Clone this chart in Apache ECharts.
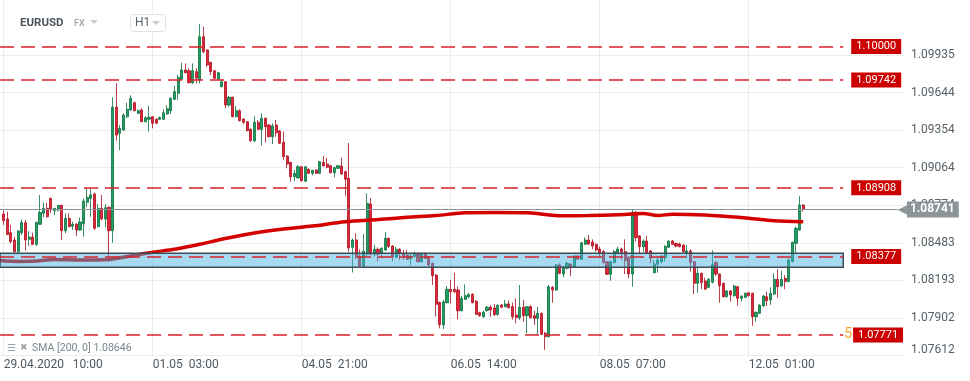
<!DOCTYPE html>
<html><head><meta charset="utf-8">
<script src="https://cdn.jsdelivr.net/npm/echarts@6/dist/echarts.min.js"></script>
<style>html,body{margin:0;padding:0;background:#fff}#c{width:970px;height:381px}</style>
</head><body><div id="c"></div>
<script>
// ---------- data ----------
const instrument = 'EURUSD';
const timeframe = 'H1';
const xTickLabels = ['29.04.2020   10:00', '01.05  03:00', '04.05  21:00', '06.05  14:00', '08.05  07:00', '12.05  01:00'];
const yTicks = [1.07612, 1.07902, 1.08193, 1.08483, 1.08774, 1.09064, 1.09354, 1.09644, 1.09935];
const levels = [1.10000, 1.09742, 1.08908, 1.08377, 1.07771];
const levelNotes = ['', '', '', '', '5'];
const lastPrice = 1.08741;
const zone = [1.08402, 1.08294];
// open, close, low, high  (candles from 29.04.2020 10:00, hourly)
const ohlc = [
[1.08706,1.08654,1.08621,1.08732],[1.08667,1.08548,1.08543,1.08724],[1.08561,1.08492,1.08479,1.08621],[1.08505,1.08415,1.08402,1.0853],
[1.08415,1.08574,1.08397,1.08582],[1.08561,1.08641,1.08543,1.08664],[1.08638,1.08505,1.08423,1.08659],[1.0851,1.08528,1.08458,1.08574],
[1.08528,1.08471,1.08466,1.08561],[1.08471,1.08641,1.08458,1.08646],[1.08626,1.08719,1.08621,1.08853],[1.08711,1.0875,1.0868,1.08793],
[1.0875,1.08685,1.0868,1.08793],[1.08827,1.08737,1.08711,1.08832],[1.08731,1.0875,1.08698,1.08752],[1.08737,1.08773,1.08724,1.08775],
[1.08773,1.08577,1.08505,1.08775],[1.08577,1.08672,1.08557,1.08711],[1.08672,1.08608,1.08603,1.08711],[1.08611,1.08626,1.08582,1.08646],
[1.08628,1.08582,1.08536,1.08634],[1.08582,1.08644,1.08577,1.0868],[1.08631,1.08806,1.0853,1.08827],[1.08796,1.08835,1.08762,1.08904],
[1.08827,1.08853,1.08685,1.08904],[1.0886,1.08595,1.08582,1.0887],[1.08608,1.0875,1.08603,1.08783],[1.0875,1.08667,1.08659,1.08853],
[1.08667,1.08754,1.08603,1.08783],[1.08758,1.08577,1.08337,1.08762],[1.08577,1.09531,1.08484,1.09608],[1.09531,1.09316,1.09272,1.09716],
[1.0933,1.09368,1.092,1.09394],[1.09355,1.09471,1.09347,1.09484],[1.09458,1.09515,1.09446,1.09566],[1.0951,1.096,1.09504,1.09623],
[1.09566,1.09504,1.095,1.09574],[1.09484,1.09504,1.09479,1.09515],[1.0951,1.09419,1.09417,1.09523],[1.09419,1.0945,1.09415,1.09463],
[1.09438,1.09453,1.09342,1.09541],[1.09458,1.09407,1.09368,1.09463],[1.09438,1.09407,1.09401,1.09446],[1.09438,1.09453,1.09432,1.09458],
[1.09438,1.09489,1.09432,1.09515],[1.09479,1.0952,1.09473,1.09546],[1.09504,1.096,1.09479,1.09608],[1.09592,1.09651,1.09587,1.09695],
[1.09639,1.09762,1.09587,1.0978],[1.09747,1.09819,1.09742,1.09875],[1.09819,1.09798,1.09793,1.0987],[1.09813,1.09721,1.09716,1.09832],
[1.09721,1.09813,1.09711,1.0987],[1.09806,1.09757,1.09716,1.09832],[1.09742,1.10076,1.09716,1.10175],[1.10076,1.0996,1.09948,1.10154],
[1.09974,1.09858,1.09844,1.09979],[1.09878,1.09806,1.0978,1.09883],[1.09813,1.09755,1.09749,1.09819],[1.09749,1.09798,1.09747,1.09806],
[1.0969,1.09728,1.09685,1.09747],[1.09728,1.09548,1.09523,1.09734],[1.09548,1.09608,1.09535,1.09618],[1.09608,1.09458,1.09453,1.09613],
[1.09458,1.09504,1.09453,1.09541],[1.09504,1.09427,1.09422,1.09515],[1.0944,1.09415,1.09401,1.09446],[1.09419,1.0935,1.09345,1.09425],
[1.0936,1.09272,1.09265,1.09368],[1.09272,1.09415,1.0926,1.09463],[1.09415,1.0936,1.09355,1.09432],[1.0936,1.09446,1.09234,1.09484],
[1.09446,1.09381,1.09257,1.0945],[1.09394,1.09303,1.09299,1.09399],[1.09303,1.09386,1.09247,1.09407],[1.09394,1.09334,1.09303,1.09432],
[1.09347,1.09252,1.09247,1.09355],[1.0926,1.09149,1.09123,1.09342],[1.09154,1.09092,1.09059,1.09162],[1.09105,1.08994,1.08955,1.0911],
[1.08994,1.0902,1.08963,1.09046],[1.08985,1.09071,1.0898,1.09085],[1.09071,1.08963,1.08955,1.09077],[1.08959,1.09071,1.08955,1.09077],
[1.09051,1.0902,1.09015,1.09059],[1.0902,1.09044,1.09005,1.09046],[1.09046,1.0902,1.09015,1.0905],[1.0902,1.0911,1.09015,1.09115],
[1.09105,1.09079,1.09071,1.09154],[1.09092,1.09067,1.09059,1.09141],[1.09079,1.09025,1.0902,1.09085],[1.09025,1.09064,1.08989,1.09071],
[1.09059,1.09079,1.09054,1.09085],[1.09077,1.09015,1.0901,1.09141],[1.09033,1.08974,1.08847,1.09041],[1.08982,1.08443,1.08414,1.09255],
[1.08448,1.08505,1.08254,1.08516],[1.08505,1.08369,1.0836,1.08557],[1.08381,1.08304,1.08298,1.08431],[1.08304,1.08418,1.08298,1.0855],
[1.08397,1.08789,1.08381,1.08866],[1.08783,1.08394,1.08386,1.08829],[1.08394,1.08433,1.08377,1.08466],[1.08433,1.08394,1.08337,1.08448],
[1.08402,1.0844,1.08363,1.08448],[1.08428,1.08518,1.0842,1.08567],[1.08518,1.08456,1.08443,1.08524],[1.08458,1.08373,1.08342,1.08466],
[1.08371,1.08433,1.08366,1.08451],[1.08433,1.08399,1.0835,1.08441],[1.08402,1.08376,1.0835,1.08428],[1.08389,1.08356,1.0835,1.08428],
[1.0836,1.08381,1.08312,1.08402],[1.08376,1.08402,1.08371,1.08415],[1.08397,1.08337,1.08332,1.08407],[1.08337,1.08397,1.08332,1.08402],
[1.08397,1.08363,1.08358,1.08407],[1.08376,1.08312,1.08304,1.08381],[1.08325,1.08229,1.08157,1.0833],[1.08234,1.08008,1.07912,1.08242],
[1.08023,1.0785,1.07822,1.08028],[1.07848,1.08026,1.07817,1.08041],[1.0802,1.08124,1.08015,1.08149],[1.08124,1.08105,1.08015,1.08196],
[1.08124,1.08105,1.08093,1.08252],[1.08118,1.07958,1.07892,1.08144],[1.07958,1.08054,1.07953,1.08072],[1.08046,1.08074,1.08041,1.08162],
[1.08066,1.08084,1.08054,1.08097],[1.08085,1.0802,1.08015,1.08093],[1.08031,1.07931,1.07925,1.08041],[1.07943,1.0792,1.07912,1.07951],
[1.07912,1.07946,1.07904,1.07959],[1.07959,1.07985,1.07951,1.07995],[1.07985,1.07964,1.07912,1.08002],[1.07979,1.07929,1.07917,1.0801],
[1.07929,1.08,1.0792,1.08008],[1.08002,1.07985,1.07977,1.0801],[1.07989,1.0801,1.07985,1.08041],[1.0801,1.07981,1.07977,1.08036],
[1.0799,1.07912,1.0789,1.0802],[1.07925,1.07906,1.07861,1.08054],[1.07904,1.07985,1.07886,1.08157],[1.07985,1.0792,1.07873,1.08041],
[1.0792,1.07989,1.07784,1.07995],[1.07989,1.07904,1.07899,1.08],[1.0792,1.07899,1.07848,1.07959],[1.07899,1.07938,1.0777,1.07989],
[1.07938,1.07776,1.0777,1.07943],[1.07784,1.07757,1.07655,1.07794],[1.07757,1.08144,1.07753,1.08157],[1.08139,1.08118,1.0802,1.08149],
[1.08118,1.08312,1.08113,1.08319],[1.08312,1.08247,1.08242,1.08325],[1.08242,1.08294,1.08216,1.08304],[1.08286,1.08325,1.08278,1.08337],
[1.08319,1.08299,1.08226,1.08325],[1.08299,1.08381,1.08294,1.08389],[1.08381,1.08356,1.0835,1.08389],[1.08356,1.08484,1.0835,1.08489],
[1.08471,1.08505,1.08466,1.08526],[1.08505,1.08474,1.08466,1.08543],[1.08489,1.08458,1.08433,1.0851],[1.08471,1.08428,1.08415,1.08476],
[1.08435,1.08402,1.08376,1.08453],[1.08415,1.0833,1.08325,1.08428],[1.08337,1.0824,1.08234,1.08343],[1.0824,1.08337,1.0819,1.08343],
[1.0833,1.08415,1.08325,1.08428],[1.08407,1.08435,1.08402,1.08453],[1.08435,1.0841,1.0835,1.08445],[1.08415,1.08345,1.08242,1.0851],
[1.08371,1.08242,1.08209,1.08381],[1.08242,1.08719,1.08144,1.08742],[1.08719,1.08523,1.08492,1.08729],[1.08536,1.08453,1.08402,1.08543],
[1.08453,1.08497,1.08415,1.0851],[1.08497,1.08407,1.08402,1.08536],[1.0842,1.08363,1.08325,1.08428],[1.08252,1.08319,1.08247,1.0835],
[1.08317,1.0835,1.08252,1.08376],[1.08337,1.08381,1.08325,1.08386],[1.08368,1.08456,1.08337,1.08464],[1.08448,1.08497,1.08443,1.08501],
[1.08497,1.08471,1.08466,1.08505],[1.08479,1.08458,1.08448,1.08484],[1.08474,1.08453,1.08448,1.08484],[1.08466,1.08415,1.08407,1.08471],
[1.08402,1.0842,1.08363,1.08466],[1.0842,1.0833,1.0826,1.08433],[1.08337,1.0817,1.08087,1.08343],[1.0817,1.08247,1.08097,1.08294],
[1.08247,1.08175,1.08124,1.08252],[1.08188,1.08126,1.08118,1.08213],[1.08139,1.08201,1.08134,1.08211],[1.08178,1.08313,1.0817,1.08425],
[1.08332,1.08242,1.08226,1.0834],[1.08242,1.08152,1.0802,1.08247],[1.0817,1.08067,1.0806,1.08175],[1.08067,1.08111,1.08059,1.08118],
[1.08111,1.0808,1.08028,1.08118],[1.08074,1.08149,1.08067,1.08157],[1.08144,1.08054,1.07997,1.08149],[1.08054,1.08072,1.08028,1.08074],
[1.08062,1.08093,1.08056,1.08097],[1.08097,1.08074,1.08067,1.081],[1.08093,1.07912,1.07842,1.08097],[1.07912,1.07946,1.07873,1.07951],
[1.07938,1.08002,1.07933,1.08008],[1.07995,1.08072,1.07989,1.0808],[1.08067,1.08036,1.07995,1.08105],[1.08041,1.08093,1.08002,1.08139],
[1.08087,1.08201,1.0808,1.08247],[1.08201,1.08144,1.08059,1.08278],[1.08149,1.08201,1.08144,1.08268],[1.08209,1.08184,1.08124,1.08234],
[1.08184,1.0835,1.08178,1.08363],[1.08337,1.08487,1.08332,1.08492],[1.08479,1.08595,1.08402,1.08608],[1.08582,1.08775,1.08577,1.08845],
[1.08775,1.08741,1.08724,1.08781]
];
// SMA(200) read at selected candle positions
const smaIdx = [0, 5, 10, 15, 22, 30, 35, 42, 48, 52, 55, 62, 70, 78, 86, 95, 104, 112, 120, 128, 136, 145, 150, 154, 162, 170, 177, 181, 185, 194, 200, 206, 213, 221];
const smaVal = [1.08346, 1.08339, 1.08342, 1.08354, 1.0835, 1.08354, 1.08377, 1.0841, 1.08433, 1.08455, 1.08472, 1.08516, 1.08559, 1.0859, 1.08613, 1.08646, 1.08663, 1.0868, 1.08694, 1.08715, 1.08717, 1.08715, 1.08702, 1.08693, 1.08694, 1.087, 1.0871, 1.08694, 1.08704, 1.08698, 1.08686, 1.08673, 1.08654, 1.08646];

// ---------- categories (hourly, weekend hours skipped) ----------
const pad = n => String(n).padStart(2, '0');
const categories = [];
for (let t = Date.UTC(2020, 3, 29, 9); categories.length < 250; t += 3600000) {
  const d = new Date(t), dow = d.getUTCDay(), h = d.getUTCHours();
  if ((dow === 5 && h >= 22) || dow === 6 || (dow === 0 && h < 23)) continue;
  categories.push(pad(d.getUTCDate()) + '.' + pad(d.getUTCMonth() + 1) + ' ' + pad(h) + ':00');
}
const firstTick = 1, tickEvery = 41;
const isTick = i => i >= firstTick && (i - firstTick) % tickEvery === 0 && (i - firstTick) / tickEvery < xTickLabels.length;
const levelEnd = 232;
const priceLineEnd = 247;

const FONT = 'Roboto, "Noto Sans", "DejaVu Sans", sans-serif';
const chart = echarts.init(document.getElementById('c'), null, {renderer: 'canvas'});
const option = {
  animation: false,
  backgroundColor: '#ffffff',
  textStyle: {fontFamily: FONT},
  grid: {left: 0, right: 65, top: 0, bottom: 25.5, containLabel: false, outerBoundsMode: 'none'},
  xAxis: {
    type: 'category', data: categories, boundaryGap: false,
    axisLine: {show: false}, axisTick: {show: false},
    axisLabel: {
      interval: (i) => isTick(i),
      formatter: (v, i) => isTick(i) ? xTickLabels[(i - firstTick) / tickEvery] : '',
      align: 'left', color: '#4f5960', fontSize: 12, margin: 3, fontFamily: FONT
    },
    splitLine: {show: true, interval: (i) => isTick(i), lineStyle: {color: '#ececec', width: 1}}
  },
  yAxis: {
    type: 'value', position: 'right', min: yTicks[0], max: 1.1036, scale: true,
    axisLine: {show: false}, axisTick: {show: false, customValues: yTicks},
    axisLabel: {customValues: yTicks, formatter: v => v.toFixed(5), color: '#566168', fontSize: 12, margin: 6, fontFamily: FONT,
      verticalAlignMinLabel: 'bottom'},
    splitLine: {show: true, lineStyle: {color: '#ececec', width: 1}}
  },
  series: [
    {
      type: 'candlestick', z: 2, silent: true, barWidth: 2.6,
      data: ohlc.map((d, i) => [i + 1, d[0], d[1], d[2], d[3]]),
      encode: {x: 0, y: [1, 2, 3, 4]},
      itemStyle: {color: '#1f9d63', color0: '#e3263a', borderColor: '#0b6e3c', borderColor0: '#a90f1d', borderWidth: 0.8}
    },
    {
      type: 'line', z: 3, silent: true, showSymbol: false, smooth: 0.3,
      data: smaIdx.map((x, k) => [x, smaVal[k]]),
      lineStyle: {color: '#d40000', width: 3.5}
    },
    {
      type: 'line', z: 3, silent: true, data: [],
      markLine: {
        silent: true, symbol: ['none', 'none'], animation: false,
        lineStyle: {type: [14, 7], color: '#d8232a', width: 1.5},
        label: {
          show: true, position: 'end', distance: 8,
          rich: {
            b: {backgroundColor: '#cc0000', color: '#ffffff', fontSize: 11, padding: [2, 5, 2, 5], fontFamily: FONT},
            n: {color: '#f5a623', fontSize: 14, padding: [0, 1, 0, 0], fontFamily: FONT}
          }
        },
        emphasis: {disabled: true},
        data: levels.map((v, k) => [
          {xAxis: 0, yAxis: v, label: {distance: levelNotes[k] ? 1 : 8, formatter: (levelNotes[k] ? '{n|' + levelNotes[k] + '}' : '') + '{b|' + v.toFixed(5) + '}'}},
          {xAxis: levelEnd, yAxis: v}
        ])
      }
    },
    {
      type: 'custom', z: 4, silent: true,
      renderItem: (params, api) => {
        const p0 = api.coord([api.value(0), api.value(2)]);
        const p1 = api.coord([api.value(1), api.value(3)]);
        return {type: 'rect', shape: {x: p0[0], y: p0[1], width: p1[0] - p0[0], height: p1[1] - p0[1]},
          style: {fill: 'rgba(70,178,224,0.48)', stroke: '#3d4c56', lineWidth: 1.5}};
      },
      encode: {x: [0, 1], y: [2, 3]},
      data: [[0, levelEnd, zone[0], zone[1]]]
    },
    {
      type: 'line', z: 6, silent: true, data: [],
      markLine: {
        silent: true, symbol: ['none', 'none'], animation: false,
        lineStyle: {type: 'solid', color: '#8a9499', width: 1},
        label: {
          show: true, position: 'end', distance: 0,
          formatter: '{a|◀}{b|' + lastPrice.toFixed(5) + '}',
          rich: {
            a: {color: '#8a9499', fontSize: 12, fontFamily: '"DejaVu Sans"', lineHeight: 16},
            b: {backgroundColor: '#8a9499', color: '#ffffff', fontWeight: 'bold', fontSize: 12, padding: [2, 4, 2, 3], lineHeight: 12, fontFamily: FONT}
          }
        },
        emphasis: {disabled: true},
        data: [[{xAxis: 0, yAxis: lastPrice}, {xAxis: priceLineEnd, yAxis: lastPrice}]]
      }
    }
  ],
  graphic: [
    {type: 'text', x: 20, y: 23, z: 10, style: {text: instrument, font: 'bold 11.5px Roboto', fill: '#4b555b', verticalAlign: 'middle'}},
    {type: 'text', x: 74, y: 24, z: 10, style: {text: 'FX', font: 'bold 9px Roboto', fill: '#a7afb5', verticalAlign: 'middle'}},
    {type: 'polygon', z: 10, shape: {points: [[90, 20], [98, 20], [94, 24]]}, style: {fill: '#c8ced2'}},
    {type: 'rect', z: 10, shape: {x: 130.5, y: 14.5, width: 35, height: 17, r: 3}, style: {fill: '#ffffff', stroke: '#dde2e5', lineWidth: 1}},
    {type: 'text', x: 135, y: 23, z: 11, style: {text: timeframe, font: '12px Roboto', fill: '#5a6369', verticalAlign: 'middle'}},
    {type: 'polygon', z: 11, shape: {points: [[152, 21], [160, 21], [156, 25]]}, style: {fill: '#c8ced2'}},
    {type: 'text', x: 7, y: 348, z: 10, style: {text: '☰', font: '10px "DejaVu Sans"', fill: '#9aa3a9', verticalAlign: 'middle'}},
    {type: 'text', x: 20, y: 347.5, z: 10, style: {text: '✖', font: '9px "DejaVu Sans"', fill: '#9aa3a9', verticalAlign: 'middle'}},
    {type: 'text', x: 32, y: 348.5, z: 10, style: {text: 'SMA [200, 0] ' + smaVal[smaVal.length - 1].toFixed(5), font: '10.5px Roboto', fill: '#7b868c', verticalAlign: 'middle'}}
  ]
};
chart.setOption(option);
</script>
</body></html>
